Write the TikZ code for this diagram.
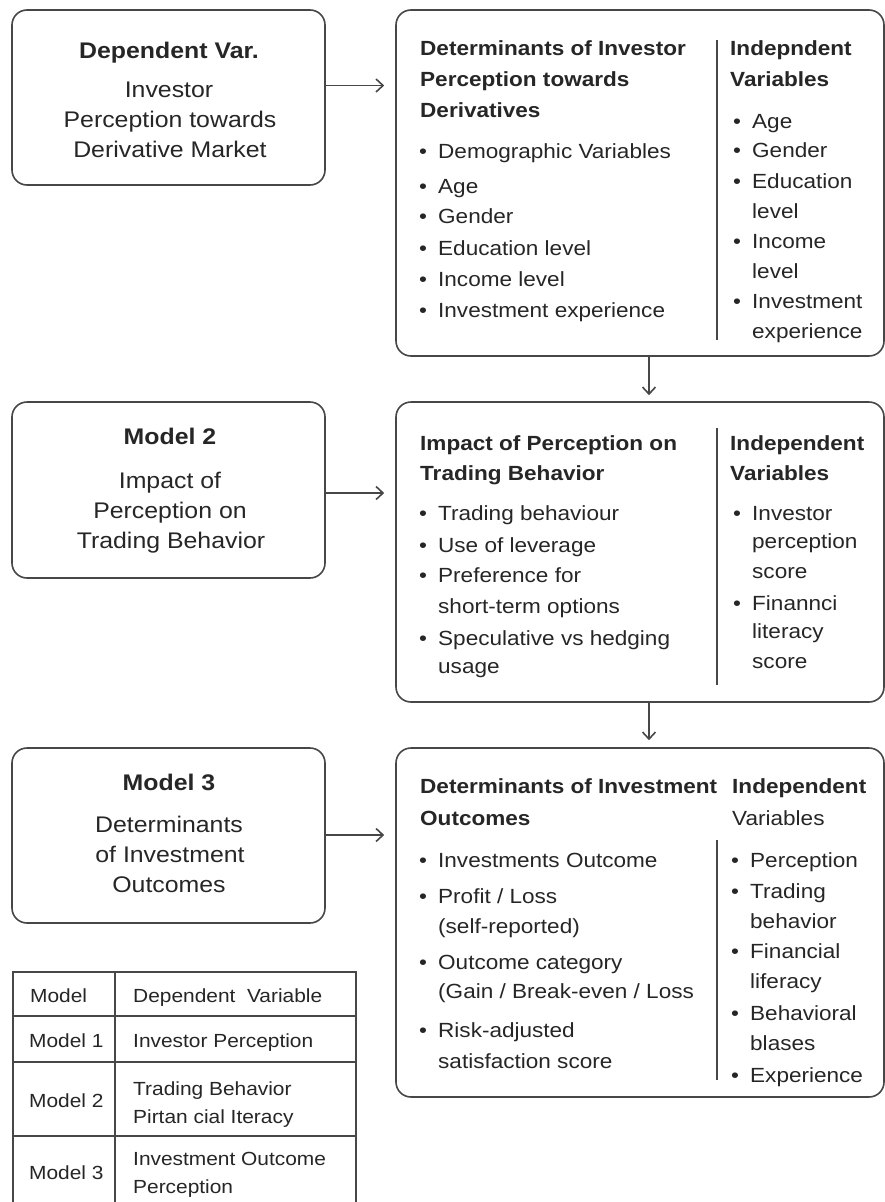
\documentclass[tikz,border=0pt]{standalone}
\usepackage{fontspec}
\setmainfont{Liberation Sans}[FakeStretch=1.1]
\usetikzlibrary{arrows.meta}
\definecolor{tc}{HTML}{262626}
\definecolor{lc}{HTML}{474747}
\newcommand\bul{\makebox[19pt][l]{•}}
\newcommand\txtline[4]{\node[txt] (#1) at (#2,#3) {#4};}
\newcommand\ctrline[4]{\node[ctxt] (#1) at (#2,#3) {#4};}
\tikzset{
  boxn/.style={draw=lc, line width=1.6pt, rounded corners=15pt, inner sep=0pt, fill=white},
  txt/.style={inner sep=0pt, anchor=base west, text=tc, font=\fontsize{20.5}{30}\selectfont},
  ctxt/.style={inner sep=0pt, anchor=base, text=tc, font=\fontsize{22.6}{30}\selectfont},
  tabtxt/.style={inner sep=0pt, anchor=base west, text=tc, font=\fontsize{19}{28}\selectfont},
  arr/.style={draw=lc, line width=1.5pt, -{Straight Barb[length=7pt,width=13pt,line width=1.6pt]}},
  divl/.style={draw=lc, line width=1.5pt},
  tabl/.style={draw=lc, line width=1.5pt}
}
\begin{document}
\begin{tikzpicture}[x=1pt,y=-1pt]
\useasboundingbox (0,0) rectangle (885,1202);
\fill[white] (0,0) rectangle (885,1202);

% boxes
\node[boxn, minimum width=313pt, minimum height=175pt] (L1) at (168.5,97.5) {};
\node[boxn, minimum width=313pt, minimum height=176pt] (L2) at (168.5,490) {};
\node[boxn, minimum width=313pt, minimum height=175pt] (L3) at (168.5,835.5) {};
\node[boxn, minimum width=488pt, minimum height=346pt] (R1) at (640,183) {};
\node[boxn, minimum width=488pt, minimum height=300pt] (R2) at (640,552) {};
\node[boxn, minimum width=488pt, minimum height=349pt] (R3) at (640,922.5) {};

% connectors
\draw[arr, shorten >=11pt] ([yshift=12pt]L1.east) -- ([yshift=12pt]L1.east -| R1.west);
\draw[arr, shorten >=11pt] ([yshift=-3pt]L2.east) -- ([yshift=-3pt]L2.east -| R2.west);
\draw[arr, shorten >=11pt] ([yshift=0.5pt]L3.east) -- ([yshift=0.5pt]L3.east -| R3.west);
\draw[arr, shorten >=6pt] ([xshift=9pt]R1.south) -- ([xshift=9pt]R2.north);
\draw[arr, shorten >=7pt] ([xshift=9pt]R2.south) -- ([xshift=9pt]R3.north);

% dividers
\coordinate (d1a) at (717,40); \coordinate (d1b) at (717,340);
\coordinate (d2a) at (717,428); \coordinate (d2b) at (717,685);
\coordinate (d3a) at (717,840); \coordinate (d3b) at (717,1080);
\draw[divl] (d1a) -- (d1b);
\draw[divl] (d2a) -- (d2b);
\draw[divl] (d3a) -- (d3b);

% left box texts
\ctrline{a1}{169}{58}{\bfseries Dependent Var.}
\ctrline{a2}{169}{97}{Investor}
\ctrline{a3}{170}{127}{Perception towards}
\ctrline{a4}{170}{157}{Derivative Market}
\ctrline{b1}{170}{444}{\bfseries Model 2}
\ctrline{b2}{170}{488}{Impact of}
\ctrline{b3}{170}{518}{Perception on}
\ctrline{b4}{171}{548}{Trading Behavior}
\ctrline{c1}{169}{790}{\bfseries Model 3}
\ctrline{c2}{169}{832}{Determinants}
\ctrline{c3}{170}{862}{of Investment}
\ctrline{c4}{169}{892}{Outcomes}

% R1 left column
\txtline{p1}{420}{55}{\bfseries Determinants of Investor}
\txtline{p2}{420}{86}{\bfseries Perception towards}
\txtline{p3}{420}{117}{\bfseries Derivatives}
\txtline{p4}{419}{158}{\bul Demographic Variables}
\txtline{p5}{419}{193}{\bul Age}
\txtline{p6}{419}{223}{\bul Gender}
\txtline{p7}{419}{255}{\bul Education level}
\txtline{p8}{419}{286}{\bul Income level}
\txtline{p9}{419}{317}{\bul Investment experience}
% R1 right column
\txtline{q1}{730}{55}{\bfseries Indepndent}
\txtline{q2}{730}{86}{\bfseries Variables}
\txtline{q3}{733}{128}{\bul Age}
\txtline{q4}{733}{157}{\bul Gender}
\txtline{q5}{733}{188}{\bul Education}
\txtline{q6}{752}{218}{level}
\txtline{q7}{733}{248}{\bul Income}
\txtline{q8}{752}{278}{level}
\txtline{q9}{733}{308}{\bul Investment}
\txtline{q10}{752}{338}{experience}

% R2 left column
\txtline{m1}{420}{450}{\bfseries Impact of Perception on}
\txtline{m2}{420}{480}{\bfseries Trading Behavior}
\txtline{m3}{419}{520}{\bul Trading behaviour}
\txtline{m4}{419}{552}{\bul Use of leverage}
\txtline{m5}{419}{582}{\bul Preference for}
\txtline{m6}{438}{613}{short-term options}
\txtline{m7}{419}{645}{\bul Speculative vs hedging}
\txtline{m8}{438}{673}{usage}
% R2 right column
\txtline{n1}{730}{450}{\bfseries Independent}
\txtline{n2}{730}{480}{\bfseries Variables}
\txtline{n3}{733}{520}{\bul Investor}
\txtline{n4}{752}{548}{perception}
\txtline{n5}{752}{578}{score}
\txtline{n6}{733}{610}{\bul Finannci}
\txtline{n7}{752}{638}{literacy}
\txtline{n8}{752}{668}{score}

% R3 left column
\txtline{s1}{420}{793}{\bfseries Determinants of Investment}
\txtline{s2}{420}{825}{\bfseries Outcomes}
\txtline{s3}{419}{867}{\bul Investments Outcome}
\txtline{s4}{419}{903}{\bul Profit / Loss}
\txtline{s5}{438}{933}{(self-reported)}
\txtline{s6}{419}{969}{\bul Outcome category}
\txtline{s7}{438}{998}{(Gain / Break-even / Loss}
\txtline{s8}{419}{1037}{\bul Risk-adjusted}
\txtline{s9}{438}{1068}{satisfaction score}
% R3 right column
\txtline{u1}{732}{793}{\bfseries Independent}
\txtline{u2}{732}{825}{Variables}
\txtline{u3}{731}{867}{\bul Perception}
\txtline{u4}{731}{898}{\bul Trading}
\txtline{u5}{750}{928}{behavior}
\txtline{u6}{731}{958}{\bul Financial}
\txtline{u7}{750}{988}{liferacy}
\txtline{u8}{731}{1020}{\bul Behavioral}
\txtline{u9}{750}{1050}{blases}
\txtline{u10}{731}{1082}{\bul Experience}

% table
\coordinate (tA) at (13,1210); \coordinate (tB) at (13,972);
\coordinate (tC) at (356,972); \coordinate (tD) at (356,1210);
\draw[tabl] (tA) -- (tB) -- (tC) -- (tD);
\coordinate (tc1) at (115,972); \coordinate (tc2) at (115,1210);
\draw[tabl] (tc1) -- (tc2);
\coordinate (tr1a) at (13,1016); \coordinate (tr1b) at (356,1016);
\coordinate (tr2a) at (13,1062); \coordinate (tr2b) at (356,1062);
\coordinate (tr3a) at (13,1136); \coordinate (tr3b) at (356,1136);
\draw[tabl] (tr1a) -- (tr1b);
\draw[tabl] (tr2a) -- (tr2b);
\draw[tabl] (tr3a) -- (tr3b);
\node[tabtxt] (h1) at (30,1002) {Model};
\node[tabtxt] (h2) at (133,1002) {Dependent\ \ Variable};
\node[tabtxt] (r1a) at (29,1047) {Model 1};
\node[tabtxt] (r1b) at (133,1047) {Investor Perception};
\node[tabtxt] (r2a) at (29,1107) {Model 2};
\node[tabtxt] (r2b) at (133,1095) {Trading Behavior};
\node[tabtxt] (r2c) at (133,1123) {Pirtan cial Iteracy};
\node[tabtxt] (r3a) at (29,1179) {Model 3};
\node[tabtxt] (r3b) at (133,1165) {Investment Outcome};
\node[tabtxt] (r3c) at (133,1193) {Perception};
\end{tikzpicture}
\end{document}
